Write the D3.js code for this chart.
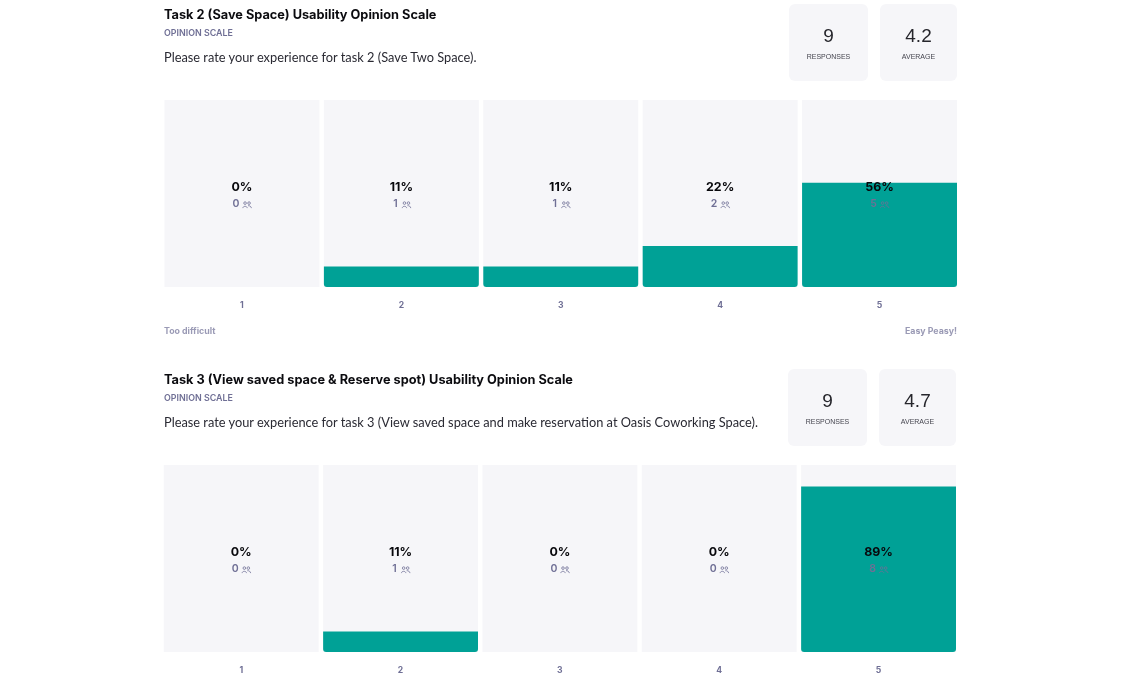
<!DOCTYPE html>
<html>
<head>
<meta charset="utf-8">
<script src="https://cdn.jsdelivr.net/npm/d3@7/dist/d3.min.js"></script>
<style>
html,body{margin:0;padding:0;background:#fff;overflow:hidden}
svg{display:block;font-family:Lato,"Open Sans",sans-serif;filter:blur(0.35px)}
</style>
</head>
<body>
<svg id="chart" width="1128" height="680"></svg>
<script>
const scaleLabels = ["1","2","3","4","5"];
const task2Title = "Task 2 (Save Space) Usability Opinion Scale";
const task2Question = "Please rate your experience for task 2 (Save Two Space).";
const task2Percent = [0,11,11,22,56];
const task2Counts = [0,1,1,2,5];
const task2Responses = "9";
const task2Average = "4.2";
const task3Title = "Task 3 (View saved space & Reserve spot) Usability Opinion Scale";
const task3Question = "Please rate your experience for task 3 (View saved space and make reservation at Oasis Coworking Space).";
const task3Percent = [0,11,0,0,89];
const task3Counts = [0,1,0,0,8];
const task3Responses = "9";
const task3Average = "4.7";
const typeLabel = "OPINION SCALE";
const lowLabel = "Too difficult";
const highLabel = "Easy Peasy!";

const svg = d3.select("#chart");
const TEAL = "#00a196", CELL = "#f6f6f9", MUTED = "#6f6f95", INK = "#0b0b0f";
const BOLD = "Inter,Lato,sans-serif";

function peopleIcon(g, x, y, color){
  const i = g.append("g").attr("transform", `translate(${x},${y})`)
    .attr("fill","none").attr("stroke",color).attr("stroke-width",0.8);
  i.append("circle").attr("cx",2.6).attr("cy",1.6).attr("r",1.3);
  i.append("circle").attr("cx",6.6).attr("cy",1.6).attr("r",1.3);
  i.append("path").attr("d","M0.4 6.6 C0.5 4.2 4.6 4.2 4.8 6.6 M5.6 4.2 C7.2 4 8.8 5 8.9 6.6");
}

function barPath(x0, w, yTop, yBase, r){
  const p = d3.path();
  p.moveTo(x0, yTop);
  p.lineTo(x0 + w, yTop);
  p.lineTo(x0 + w, yBase - r);
  p.quadraticCurveTo(x0 + w, yBase, x0 + w - r, yBase);
  p.lineTo(x0 + r, yBase);
  p.quadraticCurveTo(x0, yBase, x0, yBase - r);
  p.closePath();
  return p.toString();
}

function panel(o){
  const g = svg.append("g");
  const x = d3.scaleBand().domain(scaleLabels).range([o.x0,o.x1]).paddingInner(0.028);
  const y = d3.scaleLinear().domain([0,100.5]).range([o.top+287,o.top+100]);

  g.append("text").attr("x",164).attr("y",o.top+19).attr("font-family",BOLD).attr("font-size",12.75).attr("font-weight",700).attr("fill",INK).text(o.title);
  g.append("text").attr("x",164).attr("y",o.top+35.5).attr("font-family",BOLD).attr("font-size",8.9).attr("font-weight",600).attr("fill",MUTED).text(typeLabel);
  g.append("text").attr("x",164).attr("y",o.top+62).attr("font-size",12.8).attr("fill","#2a2a33").text(o.question);

  [[o.statX,79,o.responses,"RESPONSES"],[o.statX+91,77,o.average,"AVERAGE"]].forEach(([sx,w,val,lab])=>{
    g.append("rect").attr("x",sx).attr("y",o.top+4).attr("width",w).attr("height",77).attr("rx",6).attr("fill",CELL);
    g.append("text").attr("x",sx+w/2).attr("y",o.top+42).attr("text-anchor","middle")
      .attr("font-family","'Liberation Sans',sans-serif").attr("font-size",19).attr("fill","#26262c").text(val);
    g.append("text").attr("x",sx+w/2).attr("y",o.top+58.5).attr("text-anchor","middle")
      .attr("font-family","'Liberation Sans',sans-serif").attr("font-size",7).attr("fill","#45454f").text(lab);
  });

  const rows = scaleLabels.map((k,i)=>({k,p:o.percent[i],c:o.counts[i]}));
  g.selectAll("rect.cell").data(rows).join("rect").attr("class","cell")
    .attr("x",d=>x(d.k)).attr("y",y.range()[1]).attr("width",x.bandwidth()).attr("height",y.range()[0]-y.range()[1]).attr("fill",CELL);
  g.selectAll("path.bar").data(rows.filter(d=>d.p>0)).join("path").attr("class","bar")
    .attr("d",d=>barPath(x(d.k),x.bandwidth(),y(d.p),y(0),3))
    .attr("fill",TEAL);

  g.selectAll("text.pct").data(rows).join("text").attr("class","pct")
    .attr("x",d=>x(d.k)+x.bandwidth()/2).attr("y",o.top+191.3).attr("text-anchor","middle")
    .attr("font-family",BOLD).attr("font-size",12.4).attr("font-weight",700).attr("fill","#08080c").text(d=>d.p+"%");
  g.selectAll("text.cnt").data(rows).join("text").attr("class","cnt")
    .attr("x",d=>x(d.k)+x.bandwidth()/2-6).attr("y",o.top+206.5).attr("text-anchor","middle")
    .attr("font-family",BOLD).attr("font-size",10.5).attr("font-weight",600).attr("fill",MUTED).text(d=>d.c);
  rows.forEach(d=>peopleIcon(g,x(d.k)+x.bandwidth()/2+0.5,o.top+201.5,MUTED));

  const axis = g.append("g").attr("transform",`translate(0,${o.top+287})`)
    .call(d3.axisBottom(x).tickSize(0).tickPadding(15));
  axis.select(".domain").remove();
  axis.selectAll("text").attr("font-family",BOLD).attr("font-size",8.6).attr("font-weight",700).attr("fill",MUTED);

  if(o.footer){
    g.append("text").attr("x",164).attr("y",o.top+334).attr("font-family",BOLD).attr("font-size",8.8).attr("font-weight",700).attr("fill","#9a9ab5").text(lowLabel);
    g.append("text").attr("x",957).attr("y",o.top+334).attr("text-anchor","end").attr("font-family",BOLD).attr("font-size",8.8).attr("font-weight",700).attr("fill","#9a9ab5").text(highLabel);
  }
}

panel({top:0,x0:164.5,x1:957,statX:789,title:task2Title,question:task2Question,percent:task2Percent,counts:task2Counts,responses:task2Responses,average:task2Average,footer:true});
panel({top:365,x0:163.8,x1:956,statX:788,title:task3Title,question:task3Question,percent:task3Percent,counts:task3Counts,responses:task3Responses,average:task3Average,footer:false});
</script>
</body>
</html>
